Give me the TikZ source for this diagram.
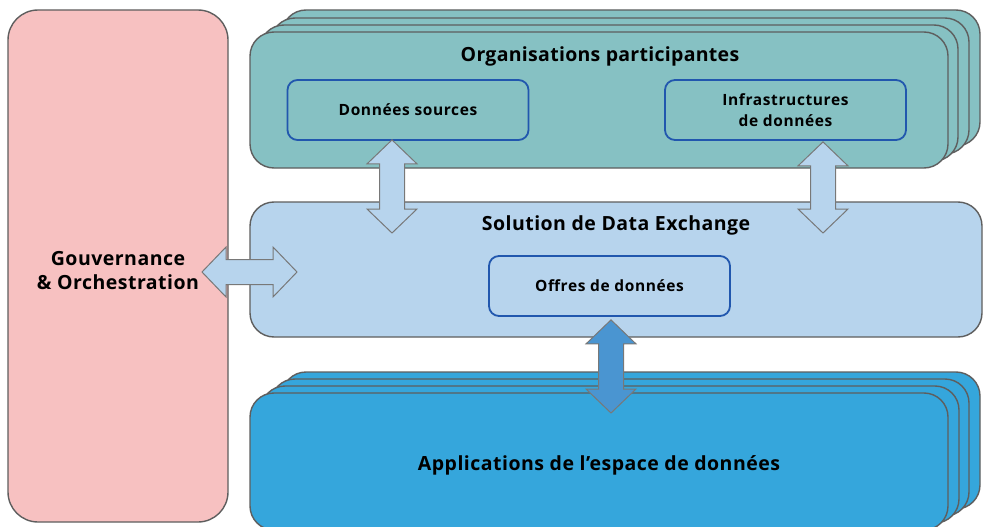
\documentclass[tikz,border=0pt]{standalone}
\usepackage{fontspec}
\setmainfont{Open Sans}[LetterSpace=2.5]
\newfontfamily\medfont{Open Sans}[LetterSpace=4]
\usetikzlibrary{calc}

\definecolor{govfill}{HTML}{F7C1C1}
\definecolor{orgfill}{HTML}{86C1C3}
\definecolor{sdefill}{HTML}{B7D4ED}
\definecolor{appfill}{HTML}{35A6DC}
\definecolor{edgegray}{HTML}{5E5E5E}
\definecolor{innerblue}{HTML}{2157AE}
\definecolor{arrowgray}{HTML}{787878}
\definecolor{arrowdark}{HTML}{4A95D1}

\tikzset{
  bigbox/.style={draw=edgegray, line width=1.4pt, rounded corners=24pt,
    inner sep=0pt, outer sep=0pt},
  innerbox/.style={draw=innerblue, line width=1.8pt, rounded corners=10pt,
    minimum width=241pt, minimum height=60pt, inner sep=0pt,
    font=\medfont\bfseries\fontsize{15.5}{21}\selectfont, align=center},
  titletext/.style={font=\bfseries\fontsize{19.5}{25}\selectfont, align=center},
  % double block arrow between two points, vertical or horizontal
  vdbl/.style={draw=arrowgray, line width=1pt, line join=miter,
    to path={let \p1=(\tikztostart), \p2=(\tikztotarget) in
      (\x1,\y1) -- (\x1+25pt,\y1-24pt) -- (\x1+12.5pt,\y1-24pt)
      -- (\x1+12.5pt,\y2+24pt) -- (\x1+25pt,\y2+24pt) -- (\x1,\y2)
      -- (\x1-25pt,\y2+24pt) -- (\x1-12.5pt,\y2+24pt)
      -- (\x1-12.5pt,\y1-24pt) -- (\x1-25pt,\y1-24pt) -- cycle}},
  hdbl/.style={draw=arrowgray, line width=1pt, line join=miter,
    to path={let \p1=(\tikztostart), \p2=(\tikztotarget) in
      (\x1,\y1) -- (\x1+24pt,\y1+25pt) -- (\x1+24pt,\y1+12.5pt)
      -- (\x2-24pt,\y1+12.5pt) -- (\x2-24pt,\y1+25pt) -- (\x2,\y1)
      -- (\x2-24pt,\y1-25pt) -- (\x2-24pt,\y1-12.5pt)
      -- (\x1+24pt,\y1-12.5pt) -- (\x1+24pt,\y1-25pt) -- cycle}},
}

\begin{document}
\begin{tikzpicture}[x=1pt, y=-1pt]
\useasboundingbox (0,0) rectangle (986,527);

% governance column
\node[bigbox, rounded corners=30pt, fill=govfill, minimum width=220pt,
  minimum height=512pt] (gov) at (118,266) {};
\node[titletext] (govtxt) at (118,271) {Gouvernance\\[-1pt]\& Orchestration};

% participating organisations: a stack of cards
\foreach \dx/\dy [count=\i] in {32/-22, 21/-14, 10/-7} {
  \node[bigbox, fill=orgfill, minimum width=698pt, minimum height=136pt]
    (orgback\i) at (599+\dx,100+\dy) {};
}
\node[bigbox, fill=orgfill, minimum width=698pt, minimum height=136pt]
  (org) at (599,100) {};
\node[titletext] (orgtxt) at ($(org.north)+(1,24)$)
  {\addfontfeatures{LetterSpace=1.5}Organisations participantes};
\node[innerbox] (src) at (408,110) {Données sources};
\node[innerbox] (infra) at (785.5,110) {Infrastructures\\de données};

% data exchange solution
\node[bigbox, fill=sdefill, minimum width=732pt, minimum height=135pt]
  (sde) at (616,269.5) {};
\node[titletext] (sdetxt) at ($(sde.north)+(0,23)$) {Solution de Data Exchange};
\node[innerbox] (offres) at (609.5,286) {Offres de données};

% data space applications: a stack of cards
\foreach \dx/\dy [count=\i] in {32/-21, 21/-14, 11/-7} {
  \node[bigbox, fill=appfill, minimum width=698pt, minimum height=137pt]
    (appback\i) at (599+\dx,461.5+\dy) {};
}
\node[bigbox, fill=appfill, minimum width=698pt, minimum height=137pt]
  (app) at (599,461.5) {};
\node[titletext] (apptxt) at (599,465) {Applications de l’espace de données};

% arrow end points
\coordinate (a1s) at ($(src.south)+(-16,-1)$);
\coordinate (a1e) at ($(a1s |- sde.north)+(0,31)$);
\coordinate (a2s) at ($(infra.south)+(37.5,1)$);
\coordinate (a2e) at ($(a2s |- sde.north)+(0,31)$);
\coordinate (a3s) at ($(gov.east)+(-26,6)$);
\coordinate (a3e) at ($(a3s -| sde.west)+(47,0)$);
\coordinate (a4s) at ($(offres.south)+(1.5,3)$);
\coordinate (a4e) at ($(a4s |- app.north)+(0,20)$);

% exchanges
\draw[vdbl, fill=sdefill] (a1s) to (a1e);
\draw[vdbl, fill=sdefill] (a2s) to (a2e);
\draw[hdbl, fill=sdefill] (a3s) to (a3e);
\draw[vdbl, fill=arrowdark] (a4s) to (a4e);
\end{tikzpicture}
\end{document}
